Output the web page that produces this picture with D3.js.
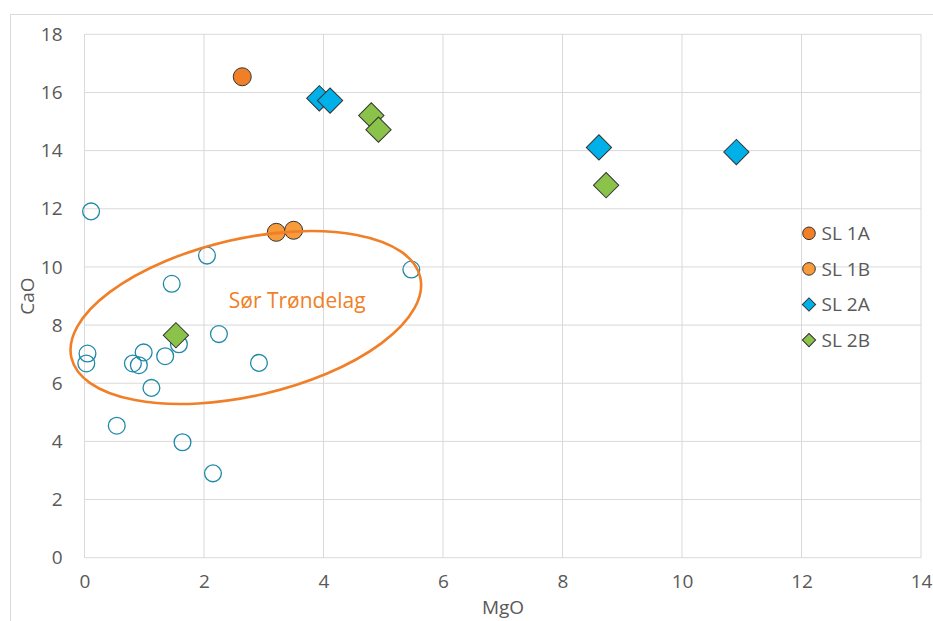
<!DOCTYPE html>
<meta charset="utf-8">
<style>
body { margin: 0; background: #fff; }
text { font-family: "Open Sans", sans-serif; }
.grid line { stroke: #d9d9d9; stroke-width: 1px; }
.axis text { fill: #595959; font-size: 19px; }
.axis .domain, .axis .tick line { display: none; }
</style>
<body>
<script src="https://cdnjs.cloudflare.com/ajax/libs/d3/7.8.5/d3.min.js"></script>
<script>

// data: [MgO, CaO]
var reference = [
  [0.11, 11.91], [1.46, 9.42], [2.05, 10.39], [5.47, 9.91],
  [0.05, 7.02], [0.03, 6.68], [0.81, 6.68], [0.91, 6.62],
  [0.99, 7.06], [1.35, 6.93], [1.58, 7.34], [2.25, 7.69],
  [2.92, 6.70], [1.12, 5.84], [0.54, 4.54], [1.64, 3.97],
  [2.15, 2.90]
];
var sl1a = [[2.64, 16.54]];
var sl1b = [[3.21, 11.19], [3.50, 11.26]];
var sl2a = [[3.93, 15.80], [4.11, 15.72], [8.61, 14.11], [10.91, 13.95]];
var sl2b = [[4.80, 15.21], [4.92, 14.72], [8.73, 12.81], [1.53, 7.65]];

var xTicks = [0, 2, 4, 6, 8, 10, 12, 14];
var yTicks = [0, 2, 4, 6, 8, 10, 12, 14, 16, 18];

var series = [
  {name: "SL 1A", data: sl1a, shape: "circle", fill: "#f07f27"},
  {name: "SL 1B", data: sl1b, shape: "circle", fill: "#f79b3c"},
  {name: "SL 2A", data: sl2a, shape: "diamond", fill: "#00b0e8"},
  {name: "SL 2B", data: sl2b, shape: "diamond", fill: "#8bc34a"}
];

var margin = {top: 34.3, left: 84.5},
    width = 836.5,
    height = 523.4;

var svg = d3.select("body").append("svg")
    .attr("width", 933)
    .attr("height", 621);

// chart area border
svg.append("rect")
    .attr("x", 10.5).attr("y", 14.5)
    .attr("width", 1000).attr("height", 1000)
    .attr("fill", "none")
    .attr("stroke", "#d9d9d9");

var g = svg.append("g")
    .attr("transform", "translate(" + margin.left + "," + margin.top + ")");

var x = d3.scaleLinear().domain([0, 14]).range([0, width]);
var y = d3.scaleLinear().domain([0, 18]).range([height, 0]);

var grid = g.append("g").attr("class", "grid");
grid.selectAll(".gx").data(xTicks).enter().append("line")
    .attr("x1", function(d) { return x(d); })
    .attr("x2", function(d) { return x(d); })
    .attr("y1", 0).attr("y2", height);
grid.selectAll(".gy").data(yTicks).enter().append("line")
    .attr("y1", function(d) { return y(d); })
    .attr("y2", function(d) { return y(d); })
    .attr("x1", 0).attr("x2", width);

g.append("g")
    .attr("class", "axis")
    .attr("transform", "translate(0," + height + ")")
    .call(d3.axisBottom(x).tickValues(xTicks).tickSize(0).tickPadding(17));

g.append("g")
    .attr("class", "axis")
    .call(d3.axisLeft(y).tickValues(yTicks).tickSize(0).tickPadding(22));

svg.append("text")
    .attr("transform", "translate(34,296) rotate(-90)")
    .attr("text-anchor", "middle")
    .attr("fill", "#595959")
    .attr("font-size", "19px")
    .text("CaO");

svg.append("text")
    .attr("x", 503).attr("y", 614)
    .attr("text-anchor", "middle")
    .attr("fill", "#595959")
    .attr("font-size", "19px")
    .text("MgO");

// open reference circles
g.selectAll(".ref").data(reference).enter().append("circle")
    .attr("cx", function(d) { return x(d[0]); })
    .attr("cy", function(d) { return y(d[1]); })
    .attr("r", 8.4)
    .attr("fill", "none")
    .attr("stroke", "#1e88a8")
    .attr("stroke-width", 1.3);

var square = d3.symbol().type(d3.symbolSquare);

series.forEach(function(s) {
  var sel = g.selectAll(null).data(s.data).enter();
  if (s.shape === "circle") {
    sel.append("circle")
        .attr("cx", function(d) { return x(d[0]); })
        .attr("cy", function(d) { return y(d[1]); })
        .attr("r", 9)
        .attr("fill", s.fill)
        .attr("stroke", "#333")
        .attr("stroke-width", 1);
  } else {
    sel.append("path")
        .attr("d", square.size(320))
        .attr("transform", function(d) {
          return "translate(" + x(d[0]) + "," + y(d[1]) + ") rotate(45)";
        })
        .attr("fill", s.fill)
        .attr("stroke", "#333")
        .attr("stroke-width", 1);
  }
});

// Sør Trøndelag ellipse annotation
g.append("ellipse")
    .attr("transform", "translate(" + x(2.70) + "," + y(8.26) + ") rotate(-13)")
    .attr("rx", 179)
    .attr("ry", 78.5)
    .attr("fill", "none")
    .attr("stroke", "#f07f27")
    .attr("stroke-width", 2.6);

g.append("text")
    .attr("x", x(3.56))
    .attr("y", y(8.6))
    .attr("text-anchor", "middle")
    .attr("fill", "#f07f27")
    .attr("font-size", "21px")
    .text("Sør Trøndelag");

// legend
var legend = svg.append("g").attr("transform", "translate(809,233.3)");
var item = legend.selectAll("g").data(series).enter().append("g")
    .attr("transform", function(d, i) { return "translate(0," + i * 35.6 + ")"; });

item.each(function(d) {
  var el = d3.select(this);
  if (d.shape === "circle") {
    el.append("circle").attr("r", 6.3);
  } else {
    el.append("path").attr("d", d3.symbol().type(d3.symbolSquare).size(88)())
        .attr("transform", "rotate(45)");
  }
  el.selectAll("circle, path")
      .attr("fill", d.fill)
      .attr("stroke", "#333")
      .attr("stroke-width", 1);
});

item.append("text")
    .attr("x", 12.5)
    .attr("dy", "0.36em")
    .attr("fill", "#595959")
    .attr("font-size", "19px")
    .text(function(d) { return d.name; });

</script>
